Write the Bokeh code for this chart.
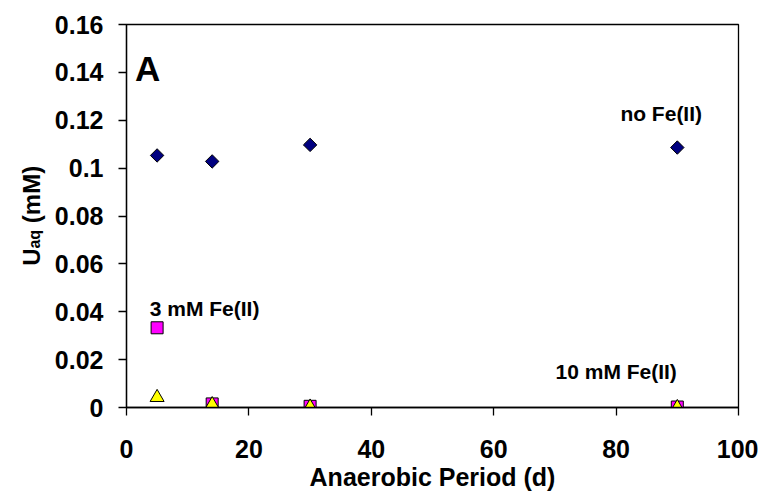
import math
from bokeh.plotting import figure
from bokeh.models import Range1d, FixedTicker, Label
from bokeh.layouts import row
from bokeh.embed import file_html
from bokeh.resources import INLINE

# ---- data ----
days = [5, 14, 30, 90]
no_fe = [0.1053, 0.1028, 0.1097, 0.1086]
fe3 = [0.0333, 0.0015, 0.0005, 0.0002]
fe10 = [0.0042, 0.0012, 0.0002, 0.0000]

x_ticks = [0, 20, 40, 60, 80, 100]
x_tick_labels = ["0", "20", "40", "60", "80", "100"]
y_ticks = [0, 0.02, 0.04, 0.06, 0.08, 0.1, 0.12, 0.14, 0.16]
y_tick_labels = ["0", "0.02", "0.04", "0.06", "0.08", "0.1", "0.12", "0.14", "0.16"]

y_title_parts = ["U", "aq", "(mM)"]

FONT = "Liberation Sans"
H = 493
LEFT_W = 50
TOP, BOTTOM = 24, 85

# ---- main plot ----
p = figure(width=758 - LEFT_W, height=H, output_backend="svg", toolbar_location=None,
           x_range=Range1d(0, 100), y_range=Range1d(0, 0.16),
           min_border_left=126 - LEFT_W, min_border_top=TOP, min_border_right=20,
           min_border_bottom=BOTTOM)
p.grid.visible = False
p.outline_line_color = "black"
p.outline_line_width = 1.3
p.background_fill_color = "white"
p.border_fill_color = "white"

for ax in (p.xaxis[0], p.yaxis[0]):
    ax.axis_line_color = "black"
    ax.axis_line_width = 1.3
    ax.major_tick_line_color = "black"
    ax.major_tick_line_width = 1.3
    ax.major_tick_out = 8
    ax.major_tick_in = 0
    ax.minor_tick_line_color = None
    ax.major_label_text_font = FONT
    ax.major_label_text_font_style = "bold"
    ax.major_label_text_font_size = "25px"
    ax.major_label_text_color = "black"

p.xaxis.ticker = FixedTicker(ticks=x_ticks)
p.xaxis.major_label_overrides = {t: l for t, l in zip(x_ticks, x_tick_labels)}
p.yaxis.ticker = FixedTicker(ticks=y_ticks)
p.yaxis.major_label_overrides = {t: l for t, l in zip(y_ticks, y_tick_labels)}
p.xaxis.major_label_standoff = 24
p.yaxis.major_label_standoff = 15

p.xaxis.axis_label = "Anaerobic Period (d)"
p.xaxis.axis_label_text_font = FONT
p.xaxis.axis_label_text_font_style = "bold"
p.xaxis.axis_label_text_font_size = "25px"
p.xaxis.axis_label_text_color = "black"
p.xaxis.axis_label_standoff = 2

# ---- markers ----
p.scatter(days, no_fe, marker="square", angle=math.pi / 4, size=9.5,
          fill_color="#000080", line_color="black", line_width=1)
p.scatter(days, fe3, marker="square", size=12,
          fill_color="#FF00FF", line_color="black", line_width=1)
p.scatter(days, fe10, marker="triangle", size=14,
          fill_color="#FFFF00", line_color="black", line_width=1)

# ---- annotations ----
def lab(fig, x, y, text, size, angle=0.0):
    fig.add_layout(Label(x=x, y=y, text=text, text_font=FONT, text_font_style="bold",
                         text_font_size=size, text_color="black", angle=angle,
                         text_baseline="alphabetic", text_align="left"))

lab(p, 1.4, 0.1415, "A", "35px")
lab(p, 80.7, 0.1229, "no Fe(II)", "21px")
lab(p, 3.8, 0.0412, "3 mM Fe(II)", "21px")
lab(p, 70.1, 0.0150, "10 mM Fe(II)", "21px")

# ---- y-axis title (with subscript) in a narrow side panel ----
yl = figure(width=LEFT_W, height=H, output_backend="svg", toolbar_location=None,
            x_range=Range1d(0, LEFT_W), y_range=Range1d(0, 0.16),
            x_axis_location=None, y_axis_location=None,
            min_border_left=0, min_border_right=0,
            min_border_top=TOP, min_border_bottom=BOTTOM)
yl.grid.visible = False
yl.outline_line_color = None
yl.background_fill_color = "white"
yl.border_fill_color = "white"

# rotated pieces: U, subscript aq, (mM) -- centred on the plot frame
lab(yl, 31, 0.0592, y_title_parts[0], "24px", math.pi / 2)
lab(yl, 34, 0.0664, y_title_parts[1], "16px", math.pi / 2)
lab(yl, 31, 0.0770, y_title_parts[2], "24px", math.pi / 2)

layout = row(yl, p, spacing=0)
open("out.html", "w").write(file_html(layout, INLINE))
